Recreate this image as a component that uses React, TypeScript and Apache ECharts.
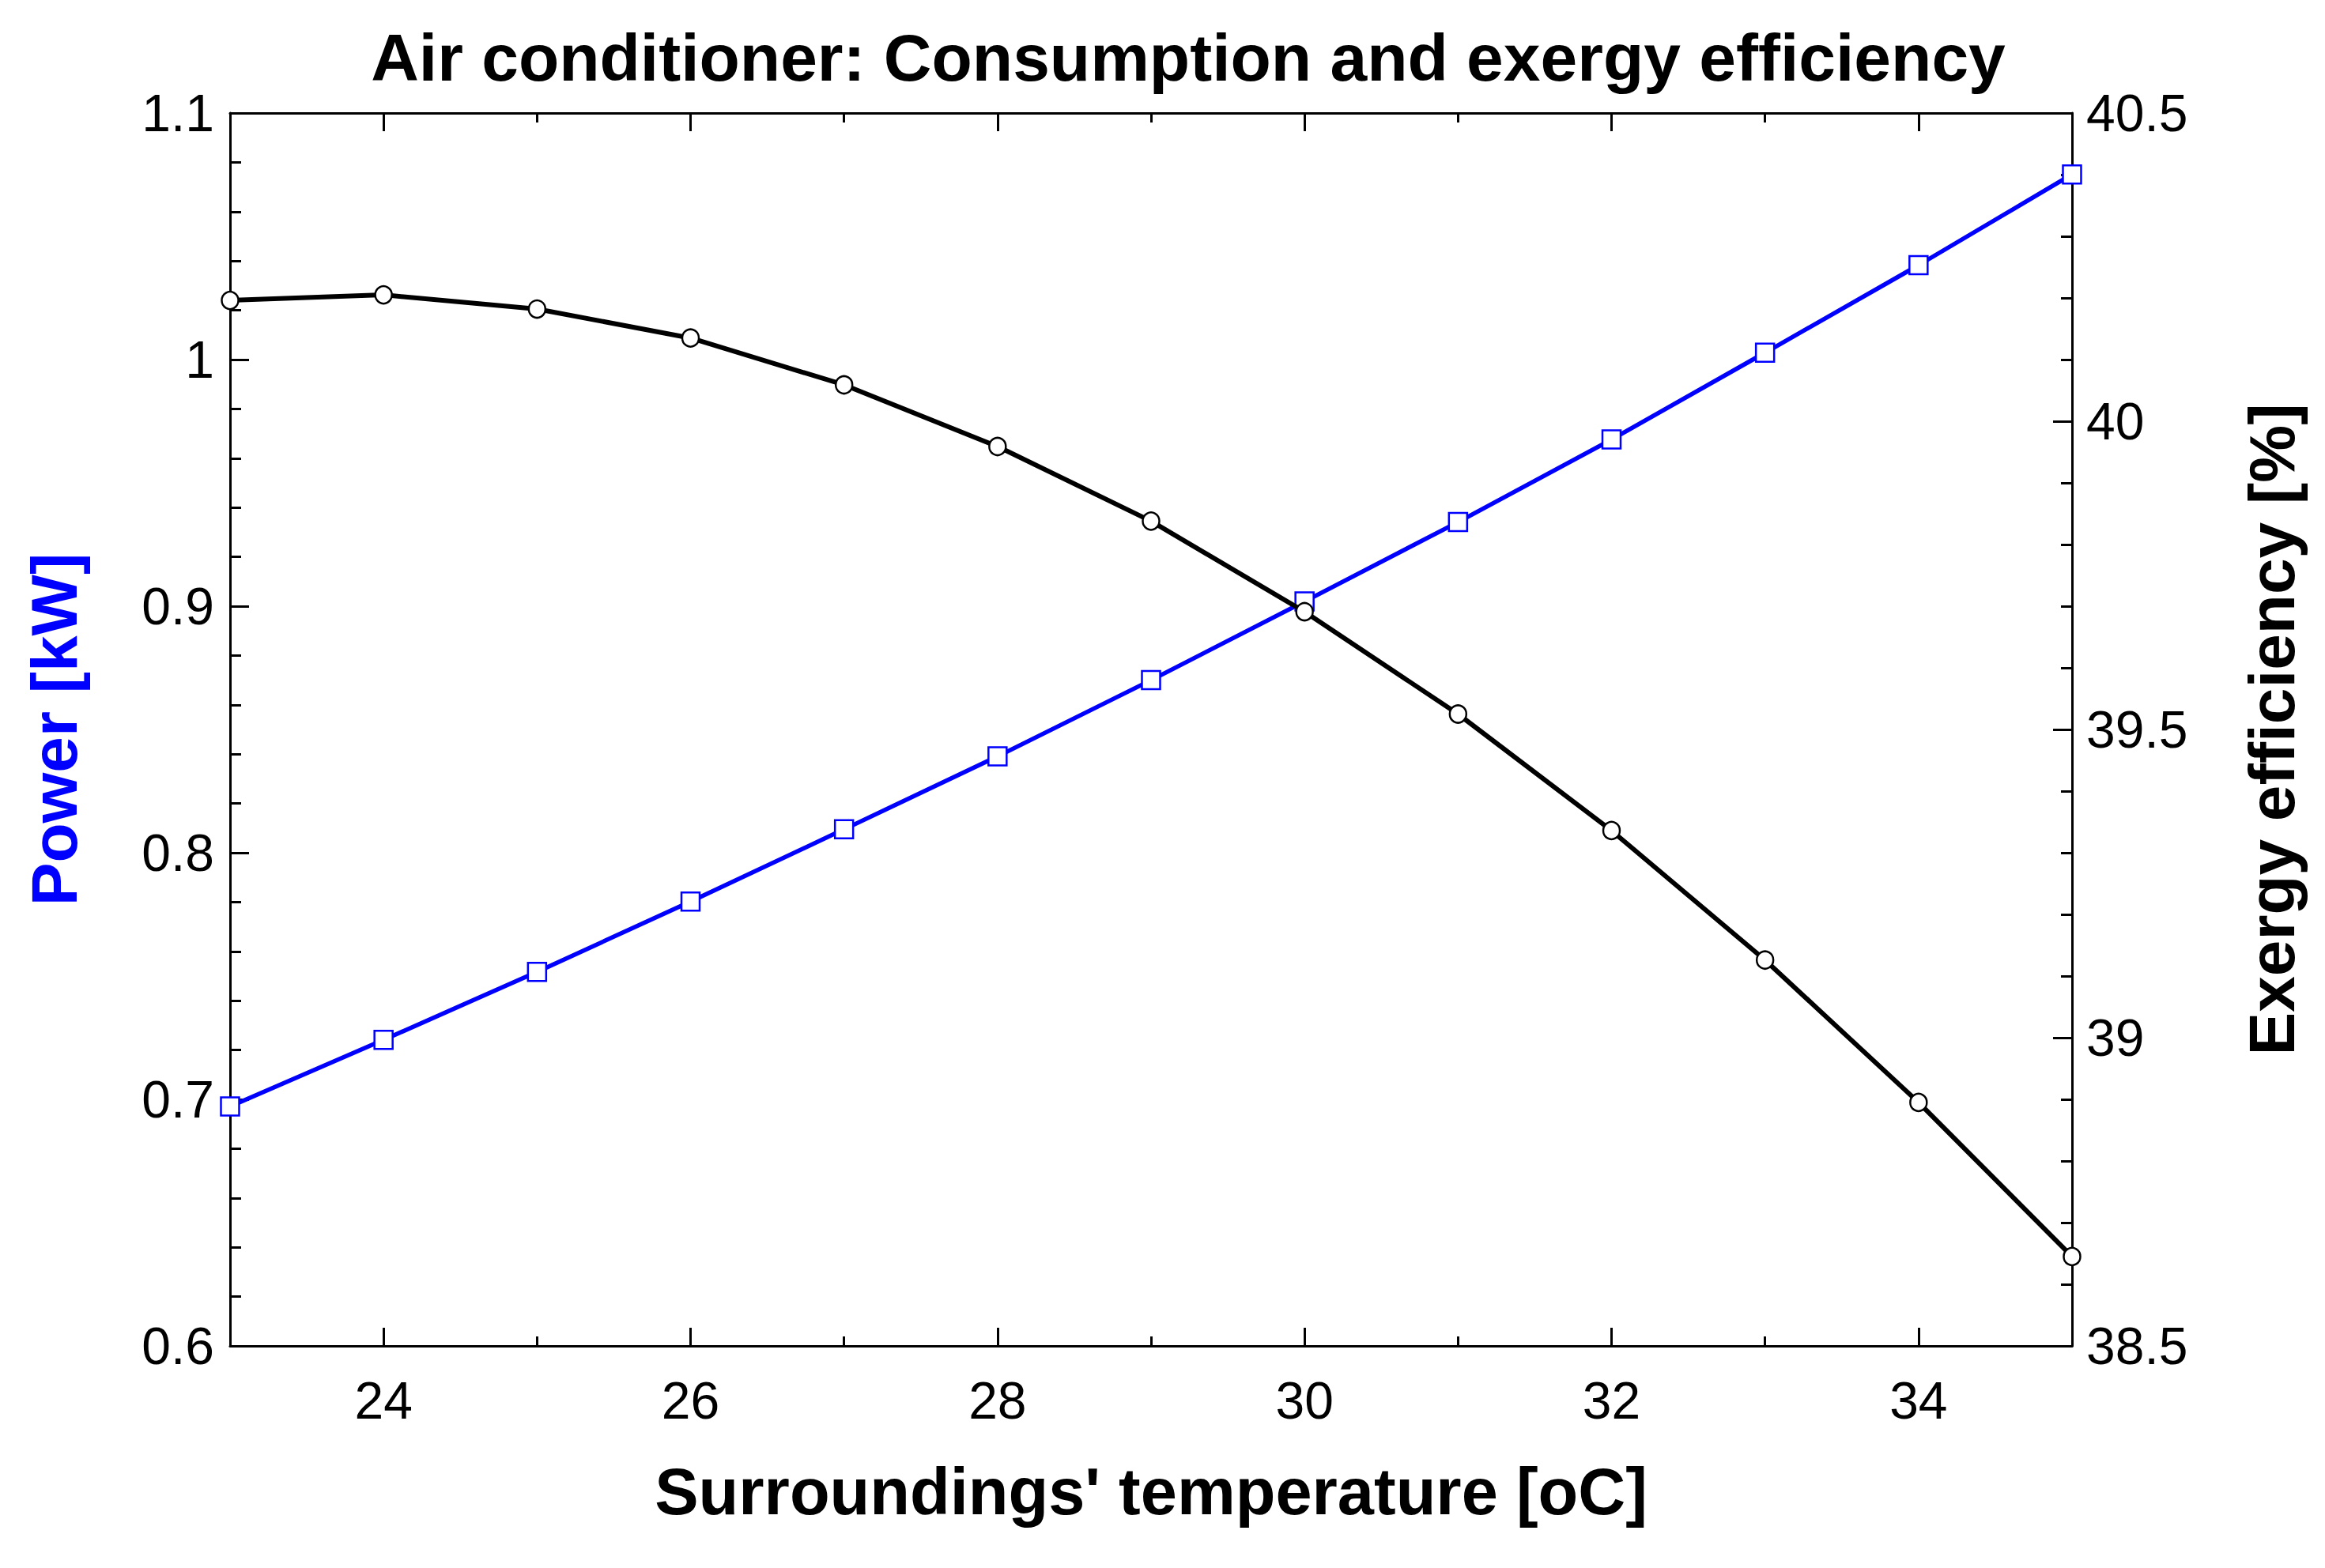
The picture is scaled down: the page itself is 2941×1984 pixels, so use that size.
import React, { useEffect, useRef } from "react";
import * as echarts from "echarts";

const temperatures = [23, 24, 25, 26, 27, 28, 29, 30, 31, 32, 33, 34, 35];
const powerKW = [0.6971, 0.7241, 0.7517, 0.7802, 0.8095, 0.8391, 0.87, 0.9019, 0.9341, 0.9676, 1.0028, 1.0383, 1.0751];
const exergyEff = [40.196, 40.205, 40.182, 40.135, 40.059, 39.959, 39.838, 39.691, 39.525, 39.336, 39.126, 38.895, 38.645];
const xMajorTicks = [24, 26, 28, 30, 32, 34];
const xMinorTicks = [23, 25, 27, 29, 31, 33, 35];

const TITLE = "Air conditioner: Consumption and exergy efficiency";
const X_NAME = "Surroundings' temperature [oC]";
const Y_LEFT_NAME = "Power [kW]";
const Y_RIGHT_NAME = "Exergy efficiency [%]";

const FONT = "'Liberation Sans', Arial, sans-serif";

const GRID_LEFT = 291;
const GRID_RIGHT = 320;
const CHART_W = 2941;
const CHART_H = 1984;

export default function App() {
  const ref = useRef<HTMLDivElement>(null);
  useEffect(() => {
    if (!ref.current) return;
    const chart = echarts.init(ref.current, null, { renderer: "svg" });
    const lineW = 3;
    const tickStyle = { color: "#000", width: lineW };
    const gridWidth = CHART_W - GRID_LEFT - GRID_RIGHT;
    const baseX = {
      type: "value",
      min: 23,
      max: 35,
      interval: 1,
      splitLine: { show: false },
    };
    const fmt = (v: number) => String(Math.round(v * 10) / 10);
    const option: any = {
      animation: false,
      backgroundColor: "#fff",
      title: {
        text: TITLE,
        left: 1503,
        top: 31,
        textAlign: "center",
        padding: 0,
        textStyle: { fontSize: 84, fontWeight: "bold", color: "#000", fontFamily: FONT },
      },
      grid: { left: GRID_LEFT, right: GRID_RIGHT, top: 143, bottom: 281, containLabel: false },
      xAxis: [
        {
          ...baseX,
          position: "bottom",
          name: X_NAME,
          nameLocation: "middle",
          nameGap: 143,
          nameTextStyle: { fontSize: 83, fontWeight: "bold", color: "#000", fontFamily: FONT },
          axisLine: { show: true, lineStyle: { color: "#000", width: lineW } },
          axisTick: { show: true, inside: true, length: 23, lineStyle: tickStyle, customValues: xMajorTicks },
          axisLabel: { show: true, margin: 36, fontSize: 66, color: "#000", fontFamily: FONT, customValues: xMajorTicks },
        },
        {
          ...baseX,
          position: "bottom",
          axisLine: { show: false },
          axisTick: { show: true, inside: true, length: 12, lineStyle: tickStyle, customValues: xMinorTicks },
          axisLabel: { show: false },
        },
        {
          ...baseX,
          position: "top",
          axisLine: { show: true, lineStyle: { color: "#000", width: lineW } },
          axisTick: { show: true, inside: true, length: 23, lineStyle: tickStyle, customValues: xMajorTicks },
          axisLabel: { show: false },
        },
        {
          ...baseX,
          position: "top",
          axisLine: { show: false },
          axisTick: { show: true, inside: true, length: 12, lineStyle: tickStyle, customValues: xMinorTicks },
          axisLabel: { show: false },
        },
      ],
      yAxis: [
        {
          type: "value",
          position: "left",
          min: 0.6,
          max: 1.1,
          interval: 0.1,
          name: Y_LEFT_NAME,
          nameLocation: "middle",
          nameRotate: 90,
          nameGap: 182,
          nameTextStyle: { fontSize: 82, fontWeight: "bold", color: "#0000ff", fontFamily: FONT },
          axisLine: { show: true, lineStyle: { color: "#000", width: lineW } },
          axisTick: { show: true, inside: true, length: 24, lineStyle: tickStyle },
          minorTick: { show: true, splitNumber: 5, length: 14, lineStyle: tickStyle },
          splitLine: { show: false },
          minorSplitLine: { show: false },
          axisLabel: { margin: 20, fontSize: 66, color: "#000", fontFamily: FONT, formatter: fmt },
        },
        {
          type: "value",
          position: "right",
          min: 38.5,
          max: 40.5,
          interval: 0.5,
          name: Y_RIGHT_NAME,
          nameLocation: "middle",
          nameRotate: 90,
          nameGap: 211,
          nameTextStyle: { fontSize: 82, fontWeight: "bold", color: "#000", fontFamily: FONT },
          axisLine: { show: true, lineStyle: { color: "#000", width: lineW } },
          axisTick: { show: false },
          minorTick: { show: false },
          splitLine: { show: false },
          minorSplitLine: { show: false },
          axisLabel: { margin: 18, fontSize: 66, color: "#000", fontFamily: FONT, formatter: fmt },
        },
        {
          // helper axis placed on the right edge: draws the right axis' ticks pointing into the plot
          type: "value",
          position: "left",
          offset: -gridWidth,
          min: 38.5,
          max: 40.5,
          interval: 0.5,
          axisLine: { show: false },
          axisTick: { show: true, inside: false, length: 24, lineStyle: tickStyle },
          minorTick: { show: true, splitNumber: 5, length: 14, lineStyle: tickStyle },
          splitLine: { show: false },
          minorSplitLine: { show: false },
          axisLabel: { show: false },
        },
      ],
      series: [
        {
          name: "Power",
          type: "line",
          xAxisIndex: 0,
          yAxisIndex: 0,
          data: temperatures.map((t, i) => [t, powerKW[i]]),
          symbol: "rect",
          symbolSize: [23, 23],
          lineStyle: { color: "#0000ff", width: 5.5 },
          itemStyle: { color: "#ffffff", borderColor: "#0000ff", borderWidth: 2.5 },
          emphasis: { disabled: true },
          z: 3,
        },
        {
          name: "Exergy efficiency",
          type: "line",
          xAxisIndex: 0,
          yAxisIndex: 1,
          data: temperatures.map((t, i) => [t, exergyEff[i]]),
          symbol: "circle",
          symbolSize: [21, 22],
          lineStyle: { color: "#000000", width: 6 },
          itemStyle: { color: "#ffffff", borderColor: "#000000", borderWidth: 2.5 },
          emphasis: { disabled: true },
          z: 4,
        },
      ],
    };
    chart.setOption(option);
    return () => chart.dispose();
  }, []);
  return (
    <div
      ref={ref}
      style={{ position: "fixed", left: 0, top: 0, width: CHART_W, height: CHART_H, background: "#fff" }}
    />
  );
}
